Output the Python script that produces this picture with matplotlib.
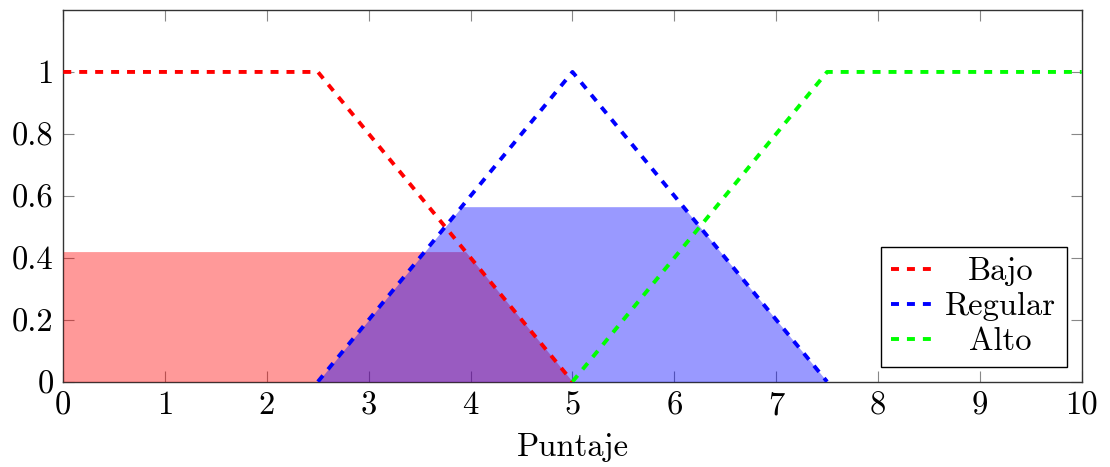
import numpy as np
import matplotlib
matplotlib.use("Agg")
import matplotlib.pyplot as plt

plt.rcParams['font.family'] = ['cmr10', 'DejaVu Serif']
plt.rcParams['axes.formatter.use_mathtext'] = True

# Membership functions
bajo_x = [0, 2.5, 5]
bajo_y = [1, 1, 0]
regular_x = [2.5, 5, 7.5]
regular_y = [0, 1, 0]
alto_x = [5, 7.5, 10]
alto_y = [0, 1, 1]

# Activation (clip) levels for shaded areas
bajo_level = 0.42
regular_level = 0.565

x_ticks = [0, 1, 2, 3, 4, 5, 6, 7, 8, 9, 10]
y_ticks = [0, 0.2, 0.4, 0.6, 0.8, 1]
y_tick_labels = ["0", "0.2", "0.4", "0.6", "0.8", "1"]

FS = 23.5
DPI = 100

fig = plt.figure(figsize=(11.1, 4.67), dpi=DPI)
ax = fig.add_axes([0.057, 0.1827, 0.9175, 0.7959])

xs = np.linspace(0, 10, 2001)
bajo_f = np.interp(xs, bajo_x, bajo_y, left=1, right=0)
reg_f = np.interp(xs, regular_x, regular_y, left=0, right=0)
ax.fill_between(xs, 0, np.minimum(bajo_f, bajo_level), where=xs <= 5,
                color='red', alpha=0.4, linewidth=0, zorder=3)
ax.fill_between(xs, 0, np.minimum(reg_f, regular_level),
                where=(xs >= 2.5) & (xs <= 7.5),
                color='blue', alpha=0.4, linewidth=0, zorder=3)

lw = 2.8
dash = (2.05, 2.05)
ax.plot(bajo_x, bajo_y, color='red', lw=lw, dashes=dash, label='Bajo', zorder=4)
ax.plot(regular_x, regular_y, color='blue', lw=lw, dashes=dash, label='Regular', zorder=4)
ax.plot(alto_x, alto_y, color=(0, 1, 0), lw=lw, dashes=dash, label='Alto', zorder=4)

ax.set_xlim(0, 10)
ax.set_ylim(0, 1.2)
ax.set_xticks(x_ticks)
ax.set_xticklabels([str(t) for t in x_ticks])
ax.set_yticks(y_ticks)
ax.set_yticklabels(y_tick_labels)
ax.tick_params(direction='in', length=8, width=0.8, color='#888888',
               top=True, right=True, labelsize=FS, pad=7)
for s in ax.spines.values():
    s.set_linewidth(1.0)
    s.set_color('#333333')
ax.set_xlabel('Puntaje', fontsize=FS, labelpad=9)

leg = ax.legend(loc='lower right', fontsize=FS, frameon=True, fancybox=False,
                edgecolor='black', framealpha=1, borderaxespad=0.46,
                handlelength=1.23, handletextpad=0.43, borderpad=0.32,
                labelspacing=0.18)
leg.get_frame().set_linewidth(1.0)

# center legend texts like pgfplots
fig.canvas.draw()
renderer = fig.canvas.get_renderer()
texts = leg.get_texts()
widths = [t.get_window_extent(renderer).width for t in texts]
wmax = max(widths)
for t, w in zip(texts, widths):
    t.set_position(((wmax - w) / 2, 0))

fig.savefig('out.png', dpi=DPI)
